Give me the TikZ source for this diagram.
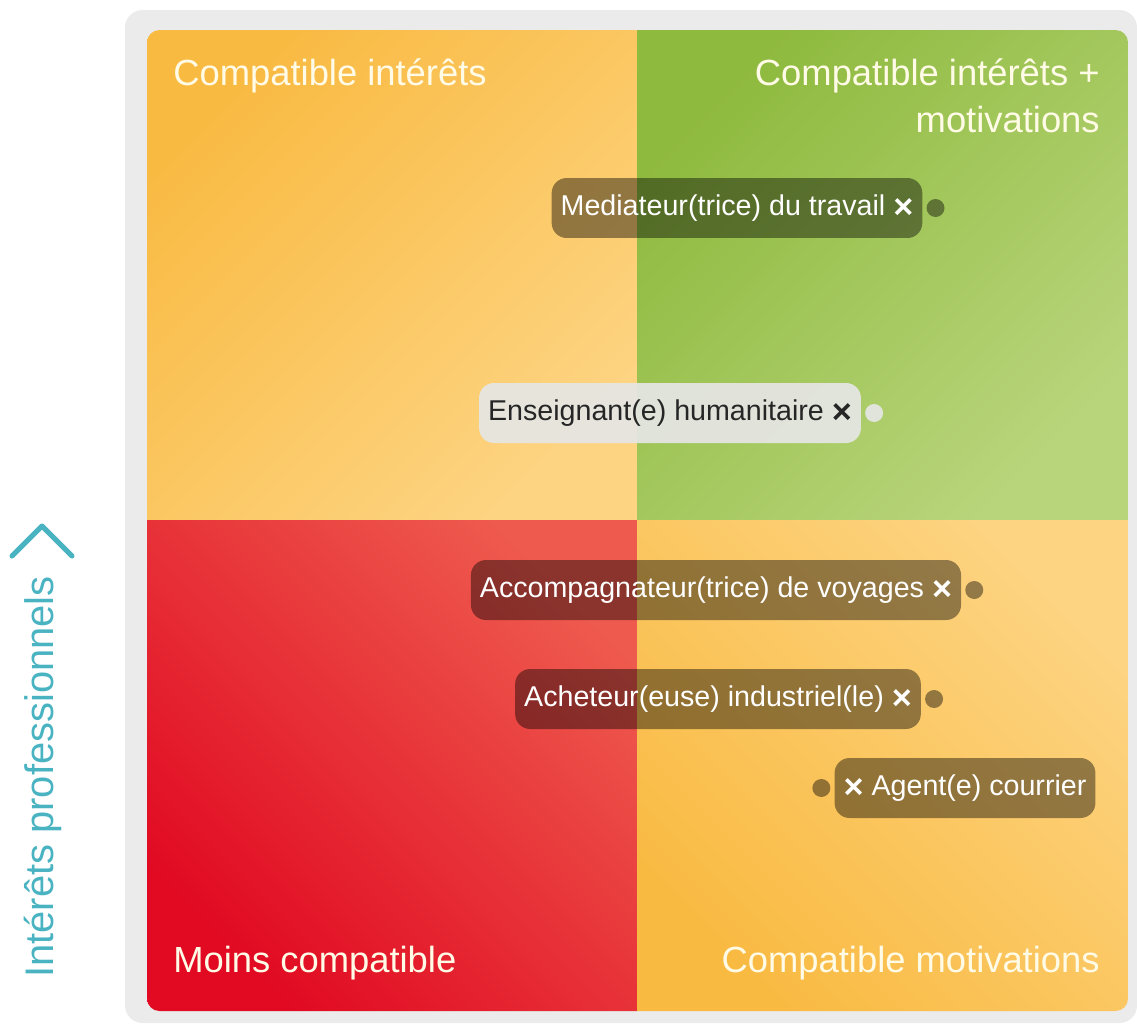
\documentclass[tikz,border=0pt]{standalone}
\usepackage{fontspec}
\setmainfont{Liberation Sans}
\usepackage{tikz}
\usetikzlibrary{positioning}

\definecolor{frame}{HTML}{EBEBEB}
\definecolor{orTop}{HTML}{F9BA42}
\definecolor{orLow}{HTML}{FDD482}
\definecolor{grTop}{HTML}{8EBA3E}
\definecolor{grLow}{HTML}{B9D57C}
\definecolor{rdDeep}{HTML}{E10A22}
\definecolor{rdLight}{HTML}{EE5A4E}
\definecolor{cream}{HTML}{FFFBE6}
\definecolor{axisteal}{HTML}{4AB3C2}
\definecolor{chipgrey}{HTML}{E6E6E4}

\newcommand{\cross}{\raisebox{-1.6pt}{\fontsize{19.5}{19.5}\selectfont\textbf{×}}}

\begin{document}
\begin{tikzpicture}[x=0.02cm, y=-0.02cm,
    tag/.style={rounded corners=0.3cm, fill=black, fill opacity=0.42, text opacity=1,
      text=white, font=\fontsize{16.3}{18}\selectfont, minimum height=1.2cm, inner xsep=0.18cm},
    lighttag/.style={tag, fill=chipgrey, fill opacity=0.93, text=black!85},
    dot/.style={circle, fill=black, fill opacity=0.42, minimum size=0.36cm, inner sep=0pt},
    lightdot/.style={dot, fill=chipgrey, fill opacity=0.93},
    corner/.style={text=cream, font=\fontsize{20.7}{26.6}\selectfont, inner sep=0pt}]
    \useasboundingbox (0, 0) rectangle (1137, 1025);

    \fill [frame, rounded corners=0.35cm] (125, 10) rectangle (1137, 1023);

    \begin{scope}
      \clip [rounded corners=0.25cm] (147, 30) rectangle (1128, 1011);
      \shade [top color=orTop, bottom color=orLow, shading angle=45] (147, 30) rectangle (637, 520);
      \shade [top color=grTop, bottom color=grLow, shading angle=45] (637, 30) rectangle (1128, 520);
      \shade [top color=rdLight, bottom color=rdDeep, shading angle=-45] (147, 520) rectangle (637, 1011);
      \shade [top color=orLow, bottom color=orTop, shading angle=-45] (637, 520) rectangle (1128, 1011);
    \end{scope}

    \node [corner, anchor=base west] (ci) at (173, 85) {Compatible intérêts};
    \node [corner, anchor=base east, align=right] (cim) at (1100, 132) {Compatible intérêts +\\motivations};
    \node [corner, anchor=base west] (mc) at (173, 972) {Moins compatible};
    \node [corner, anchor=base east] (cm) at (1100, 972) {Compatible motivations};

    \node [tag] (med) at (737, 208) {Mediateur(trice) du travail \cross};
    \node [dot, right=2pt of med] (meddot) {};

    \node [lighttag] (ens) at (670, 413) {Enseignant(e) humanitaire \cross};
    \node [lightdot, right=2pt of ens] (ensdot) {};

    \node [tag] (acc) at (716, 590) {Accompagnateur(trice) de voyages \cross};
    \node [dot, right=2pt of acc] (accdot) {};

    \node [tag] (ach) at (718, 699) {Acheteur(euse) industriel(le) \cross};
    \node [dot, right=2pt of ach] (achdot) {};

    \node [tag] (agt) at (965, 788) {\cross\ Agent(e) courrier};
    \node [dot, left=2pt of agt] (agtdot) {};

    % axe vertical
    \node [rotate=90, anchor=base, text=axisteal, font=\fontsize{22.7}{26}\selectfont] (axe) at (53, 777) {Intérêts professionnels};
    \draw [axisteal, line width=0.1cm, line cap=round, line join=round] (12, 556) -- (42, 526) -- (72, 556);
\end{tikzpicture}
\end{document}
